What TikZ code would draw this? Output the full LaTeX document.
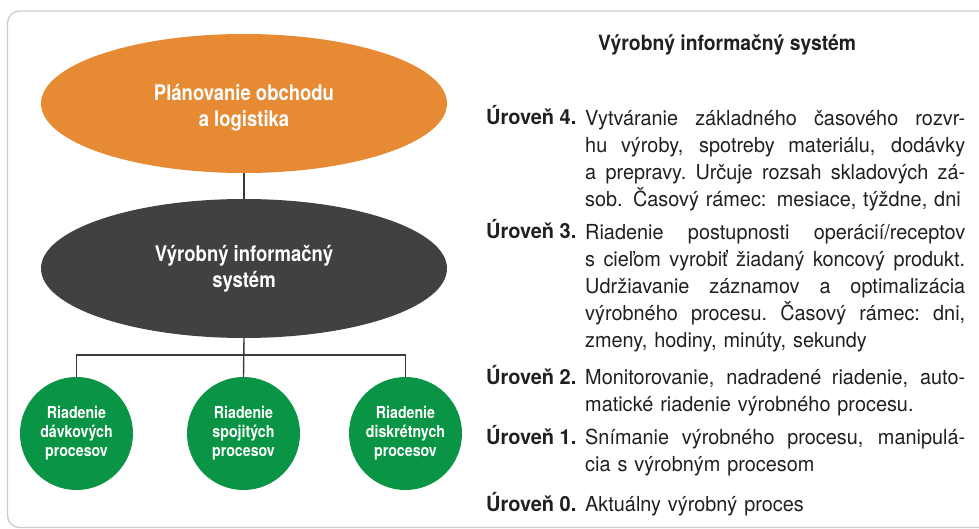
\documentclass[tikz,border=0pt]{standalone}
\usepackage{fontspec}
\setmainfont{TeX Gyre Heros}
\newfontfamily\bodyfont[FakeStretch=0.96]{TeX Gyre Heros}
\newfontfamily\narrowfont[FakeStretch=0.86]{TeX Gyre Heros}
\newfontfamily\headfont[FakeStretch=0.92]{TeX Gyre Heros}
\usetikzlibrary{shapes.geometric}

\definecolor{planorange}{RGB}{230,138,51}
\definecolor{sysgray}{RGB}{65,65,67}
\definecolor{ctrlgreen}{RGB}{10,148,69}
\definecolor{framegray}{RGB}{204,204,204}
\definecolor{linegray}{RGB}{58,58,58}
\definecolor{inkblack}{RGB}{35,31,32}

% one justified line of the level descriptions: spaces stretch to fill 380pt
\newcommand\jl[1]{\leavevmode\hbox to 380pt{\spaceskip=5.5pt plus 60pt minus 2pt
  \xspaceskip=5.5pt plus 60pt minus 2pt #1}}
% closing line of a description, set at its natural width
\newcommand\lastln[1]{\leavevmode\hbox{#1}}

\tikzset{
  bigell/.style={ellipse, minimum width=406pt, minimum height=139pt, inner sep=0pt,
    text=white, align=center, font=\narrowfont\bfseries\fontsize{21.5}{26}\selectfont},
  procball/.style={circle, minimum size=113pt, inner sep=0pt, fill=ctrlgreen,
    text=white, align=center, font=\narrowfont\bfseries\fontsize{16.5}{19}\selectfont},
  wire/.style={draw=linegray, line width=1.4pt},
  lvllabel/.style={anchor=base west, inner sep=0pt, text=inkblack,
    font=\bodyfont\bfseries\fontsize{20.8}{27}\selectfont},
  lvlbody/.style={anchor=north west, inner sep=0pt, text=inkblack, text width=380pt,
    align=left, font=\bodyfont\fontsize{20.7}{27}\selectfont},
  headline/.style={anchor=base, inner sep=0pt, text=inkblack,
    font=\headfont\bfseries\fontsize{21}{26}\selectfont}
}

\begin{document}
\begin{tikzpicture}[x=1pt, y=-1pt]
  \useasboundingbox (0,0) rectangle (979,529);
  \clip (0,0) rectangle (979,529);

  % outer frame
  \draw[framegray, line width=1.3pt, rounded corners=12pt] (7.5,11) rectangle (1010,527.5);

  % left: hierarchy
  \node[bigell, fill=planorange] (plan) at (244,103.5) {\rule{0pt}{25pt}Plánovanie obchodu\\a logistika};
  \node[bigell, fill=sysgray] (mis) at (244,268.5) {Výrobný informačný\\systém};

  \node[procball] (batch) at (76.5,433.5) {Riadenie\\dávkových\\procesov};
  \node[procball] (cont) at (243.5,433.5) {Riadenie\\spojitých\\procesov};
  \node[procball] (disc) at (405.5,433.5) {Riadenie\\diskrétnych\\procesov};

  \coordinate (bus) at (243.5,355);
  \draw[wire] (plan.south) -- (mis.north);
  \draw[wire] (mis.south) -- (cont.north);
  \draw[wire] (batch.north) |- (bus) -| (disc.north);

  % right: levels
  \node[headline] (title) at (727,51) {Výrobný informačný systém};

  \node[lvllabel] (u4) at (486,125) {Úroveň 4.};
  \node[lvlbody] (t4) at (585,105) {%
    \jl{\rule{0pt}{20pt}Vytváranie základného časového rozvr-}\\
    \jl{hu výroby, spotreby materiálu, dodávky}\\
    \jl{a prepravy. Určuje rozsah skladových zá-}\\
    \lastln{sob. Časový rámec: mesiace, týždne, dni}};

  \node[lvllabel] (u3) at (486,239) {Úroveň 3.};
  \node[lvlbody] (t3) at (585,219) {%
    \jl{\rule{0pt}{20pt}Riadenie postupnosti operácií/receptov}\\
    \jl{s cieľom vyrobiť žiadaný koncový produkt.}\\
    \jl{Udržiavanie záznamov a optimalizácia}\\
    \jl{výrobného procesu. Časový rámec: dni,}\\
    \lastln{zmeny, hodiny, minúty, sekundy}};

  \node[lvllabel] (u2) at (486,384) {Úroveň 2.};
  \node[lvlbody] (t2) at (585,364) {%
    \jl{\rule{0pt}{20pt}Monitorovanie, nadradené riadenie, auto-}\\
    \lastln{matické riadenie výrobného procesu.}};

  \node[lvllabel] (u1) at (486,444) {Úroveň 1.};
  \node[lvlbody] (t1) at (585,424) {%
    \jl{\rule{0pt}{20pt}Snímanie výrobného procesu, manipulá-}\\
    \lastln{cia s výrobným procesom}};

  \node[lvllabel] (u0) at (486,511) {Úroveň 0.};
  \node[lvlbody] (t0) at (585,491) {\lastln{\rule{0pt}{20pt}Aktuálny výrobný proces}};
\end{tikzpicture}
\end{document}
